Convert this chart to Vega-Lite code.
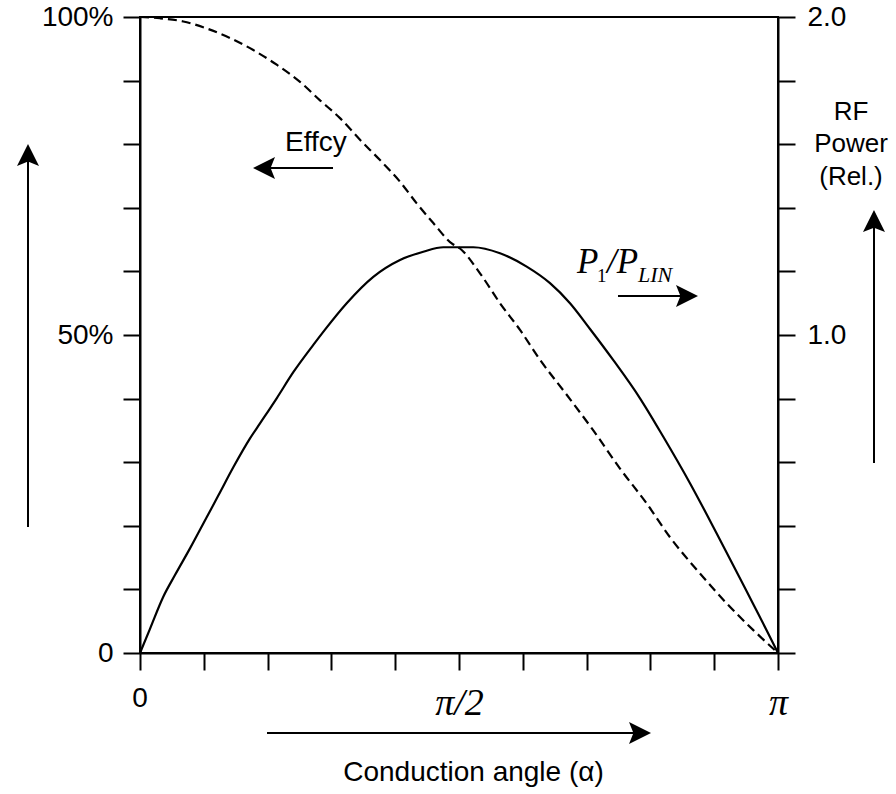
{
  "$schema": "https://vega.github.io/schema/vega-lite/v6.json",
  "width": 638,
  "height": 636,
  "autosize": {"type": "none"},
  "padding": {"left": 140, "top": 17, "right": 118, "bottom": 141},
  "background": "white",
  "config": {
    "view": {"stroke": "black", "strokeWidth": 2},
    "font": "Liberation Sans",
    "axis": {
      "domainColor": "black", "domainWidth": 2,
      "tickColor": "black", "tickWidth": 2, "tickSize": 17,
      "grid": false, "labelColor": "black", "labelFont": "Liberation Sans",
      "labelFontSize": 28, "titleColor": "black", "labelOverlap": false
    }
  },
  "datasets": {
    "eff": [
      {"alpha": 0, "eff": 100}, {"alpha": 0.0985, "eff": 99.8}, {"alpha": 0.2132, "eff": 99.3},
      {"alpha": 0.3284, "eff": 98.2}, {"alpha": 0.4432, "eff": 96.7}, {"alpha": 0.5579, "eff": 94.8},
      {"alpha": 0.6731, "eff": 92.5}, {"alpha": 0.7879, "eff": 89.8}, {"alpha": 0.8863, "eff": 86.9},
      {"alpha": 0.9848, "eff": 84.1}, {"alpha": 1.0833, "eff": 80.7}, {"alpha": 1.1818, "eff": 77.5},
      {"alpha": 1.2803, "eff": 74.1}, {"alpha": 1.3625, "eff": 70.7}, {"alpha": 1.4443, "eff": 67.6},
      {"alpha": 1.5349, "eff": 64.4}, {"alpha": 1.5757, "eff": 63.6}, {"alpha": 1.6742, "eff": 59.7},
      {"alpha": 1.7727, "eff": 55.0}, {"alpha": 1.8712, "eff": 50.8}, {"alpha": 1.9697, "eff": 46.1},
      {"alpha": 2.1011, "eff": 40.6}, {"alpha": 2.2321, "eff": 35.0}, {"alpha": 2.3636, "eff": 29.0},
      {"alpha": 2.4951, "eff": 23.5}, {"alpha": 2.6098, "eff": 18.2}, {"alpha": 2.7575, "eff": 12.5},
      {"alpha": 2.8890, "eff": 7.8}, {"alpha": 3.0200, "eff": 3.6}, {"alpha": 3.1416, "eff": 0}
    ],
    "power": [
      {"alpha": 0, "p": 0}, {"alpha": 0.0492, "p": 0.076}, {"alpha": 0.1147, "p": 0.177},
      {"alpha": 0.1723, "p": 0.245}, {"alpha": 0.2462, "p": 0.329}, {"alpha": 0.3284, "p": 0.427},
      {"alpha": 0.3856, "p": 0.495}, {"alpha": 0.4594, "p": 0.584}, {"alpha": 0.5417, "p": 0.675},
      {"alpha": 0.5909, "p": 0.722}, {"alpha": 0.6731, "p": 0.801}, {"alpha": 0.7549, "p": 0.883},
      {"alpha": 0.8534, "p": 0.969}, {"alpha": 0.9110, "p": 1.017}, {"alpha": 1.0178, "p": 1.100},
      {"alpha": 1.1488, "p": 1.183}, {"alpha": 1.2803, "p": 1.236}, {"alpha": 1.3950, "p": 1.262},
      {"alpha": 1.4935, "p": 1.276}, {"alpha": 1.5757, "p": 1.276}, {"alpha": 1.6412, "p": 1.276},
      {"alpha": 1.7727, "p": 1.257}, {"alpha": 1.9041, "p": 1.215}, {"alpha": 2.0189, "p": 1.163},
      {"alpha": 2.1174, "p": 1.100}, {"alpha": 2.2159, "p": 1.019}, {"alpha": 2.3306, "p": 0.921},
      {"alpha": 2.4621, "p": 0.801}, {"alpha": 2.5768, "p": 0.680}, {"alpha": 2.7082, "p": 0.534},
      {"alpha": 2.8398, "p": 0.376}, {"alpha": 2.9382, "p": 0.255}, {"alpha": 3.0200, "p": 0.153},
      {"alpha": 3.0860, "p": 0.071}, {"alpha": 3.1416, "p": 0}
    ],
    "shafts": [
      {"alpha": -0.5515, "y": 19.8, "alpha2": -0.5515, "y2": 77.5},
      {"alpha": 0.6254, "y": -12.58, "alpha2": 2.4621, "y2": -12.58},
      {"alpha": 0.9504, "y": 76.26, "alpha2": 0.6155, "y2": 76.26},
      {"alpha": 2.3537, "y": 56.13, "alpha2": 2.6886, "y2": 56.13},
      {"alpha": 3.6143, "y": 29.87, "alpha2": 3.6143, "y2": 67.77}
    ],
    "heads": [
      {"alpha": -0.5515, "y": 78.3, "dir": "up"},
      {"alpha": 2.4621, "y": -12.58, "dir": "right"},
      {"alpha": 0.6106, "y": 76.26, "dir": "left"},
      {"alpha": 2.6935, "y": 56.13, "dir": "right"},
      {"alpha": 3.6143, "y": 67.92, "dir": "up"}
    ],
    "zeroLabel": [{"alpha": 0, "y": -7.23, "t": "0"}],
    "effLabel": [{"alpha": 0.7140, "y": 80.19, "t": "Effcy"}],
    "rfLabel": [
      {"alpha": 3.5011, "y": 85.06, "t": "RF"},
      {"alpha": 3.5011, "y": 80.03, "t": "Power"},
      {"alpha": 3.5011, "y": 74.84, "t": "(Rel.)"}
    ],
    "pBig": [{"alpha": 2.1518, "y": 59.75, "t": "P"}, {"alpha": 2.2995, "y": 59.75, "t": "/P"}],
    "pSub1": [{"alpha": 2.2503, "y": 58.33, "t": "1"}],
    "pSubLin": [{"alpha": 2.4522, "y": 58.33, "t": "LIN"}]
  },
  "encoding": {
    "x": {
      "field": "alpha", "type": "quantitative",
      "scale": {"domain": [0, 3.14159], "nice": false, "zero": false},
      "axis": {
        "orient": "bottom",
        "values": [0, 0.314159, 0.628319, 0.942478, 1.256637, 1.570796, 1.884956, 2.199115, 2.513274, 2.827433, 3.14159],
        "labelExpr": "abs(datum.value - 1.5708) < 0.01 ? 'π/2' : abs(datum.value - 3.14159) < 0.01 ? 'π' : ''",
        "labelFlush": false,
        "labelPadding": 14,
        "labelFont": "Liberation Serif",
        "labelFontSize": 38,
        "labelFontStyle": "italic",
        "title": "Conduction angle (α)",
        "titleX": 333, "titleY": 119,
        "titleAlign": "center", "titleBaseline": "middle",
        "titleFont": "Liberation Sans", "titleFontSize": 28, "titleFontWeight": "normal"
      }
    }
  },
  "layer": [
    {
      "data": {"name": "eff"},
      "mark": {"type": "line", "color": "black", "strokeWidth": 2.2, "strokeDash": [9, 5], "interpolate": "monotone"},
      "encoding": {
        "y": {
          "field": "eff", "type": "quantitative",
          "scale": {"domain": [0, 100], "nice": false},
          "axis": {
            "orient": "left",
            "values": [0, 10, 20, 30, 40, 50, 60, 70, 80, 90, 100],
            "labelExpr": "datum.value == 100 ? '100%' : datum.value == 50 ? '50%' : datum.value == 0 ? '0' : ''",
            "labelPadding": 10,
            "title": null
          }
        }
      }
    },
    {
      "data": {"name": "power"},
      "mark": {"type": "line", "color": "black", "strokeWidth": 2.2, "interpolate": "monotone"},
      "encoding": {
        "y": {
          "field": "p", "type": "quantitative",
          "scale": {"domain": [0, 2], "nice": false},
          "axis": {
            "orient": "right",
            "values": [0, 0.2, 0.4, 0.6, 0.8, 1, 1.2, 1.4, 1.6, 1.8, 2],
            "labelExpr": "datum.value > 1.99 ? '2.0' : abs(datum.value - 1) < 0.001 ? '1.0' : ''",
            "labelPadding": 12,
            "title": null
          }
        }
      }
    },
    {
      "data": {"name": "shafts"},
      "mark": {"type": "rule", "color": "black", "strokeWidth": 2},
      "encoding": {
        "x2": {"field": "alpha2"},
        "y": {"field": "y", "type": "quantitative", "scale": {"domain": [0, 100], "nice": false}, "axis": null},
        "y2": {"field": "y2"}
      }
    },
    {
      "data": {"name": "heads"},
      "mark": {"type": "point", "filled": true, "color": "black", "opacity": 1, "size": 484, "strokeWidth": 0},
      "encoding": {
        "y": {"field": "y", "type": "quantitative", "scale": {"domain": [0, 100], "nice": false}, "axis": null},
        "shape": {
          "field": "dir", "type": "nominal",
          "scale": {"domain": ["up", "left", "right"], "range": ["M0,-1L1,1L0,0.6L-1,1Z", "M-1,0L1,-1L0.6,0L1,1Z", "M1,0L-1,-1L-0.6,0L-1,1Z"]},
          "legend": null
        }
      }
    },
    {
      "data": {"name": "zeroLabel"},
      "mark": {"type": "text", "font": "Liberation Sans", "fontSize": 28, "align": "center", "baseline": "middle", "color": "black"},
      "encoding": {
        "y": {"field": "y", "type": "quantitative", "scale": {"domain": [0, 100], "nice": false}, "axis": null},
        "text": {"field": "t"}
      }
    },
    {
      "data": {"name": "effLabel"},
      "mark": {"type": "text", "font": "Liberation Sans", "fontSize": 28, "align": "left", "baseline": "middle", "color": "black"},
      "encoding": {
        "y": {"field": "y", "type": "quantitative", "scale": {"domain": [0, 100], "nice": false}, "axis": null},
        "text": {"field": "t"}
      }
    },
    {
      "data": {"name": "rfLabel"},
      "mark": {"type": "text", "font": "Liberation Sans", "fontSize": 26, "align": "center", "baseline": "middle", "color": "black"},
      "encoding": {
        "y": {"field": "y", "type": "quantitative", "scale": {"domain": [0, 100], "nice": false}, "axis": null},
        "text": {"field": "t"}
      }
    },
    {
      "data": {"name": "pBig"},
      "mark": {"type": "text", "font": "Liberation Serif", "fontStyle": "italic", "fontSize": 35, "align": "left", "baseline": "alphabetic", "color": "black"},
      "encoding": {
        "y": {"field": "y", "type": "quantitative", "scale": {"domain": [0, 100], "nice": false}, "axis": null},
        "text": {"field": "t"}
      }
    },
    {
      "data": {"name": "pSub1"},
      "mark": {"type": "text", "font": "Liberation Serif", "fontSize": 19, "align": "left", "baseline": "alphabetic", "color": "black"},
      "encoding": {
        "y": {"field": "y", "type": "quantitative", "scale": {"domain": [0, 100], "nice": false}, "axis": null},
        "text": {"field": "t"}
      }
    },
    {
      "data": {"name": "pSubLin"},
      "mark": {"type": "text", "font": "Liberation Serif", "fontStyle": "italic", "fontSize": 22, "align": "left", "baseline": "alphabetic", "color": "black"},
      "encoding": {
        "y": {"field": "y", "type": "quantitative", "scale": {"domain": [0, 100], "nice": false}, "axis": null},
        "text": {"field": "t"}
      }
    }
  ],
  "resolve": {"scale": {"y": "independent"}, "axis": {"y": "independent"}}
}
